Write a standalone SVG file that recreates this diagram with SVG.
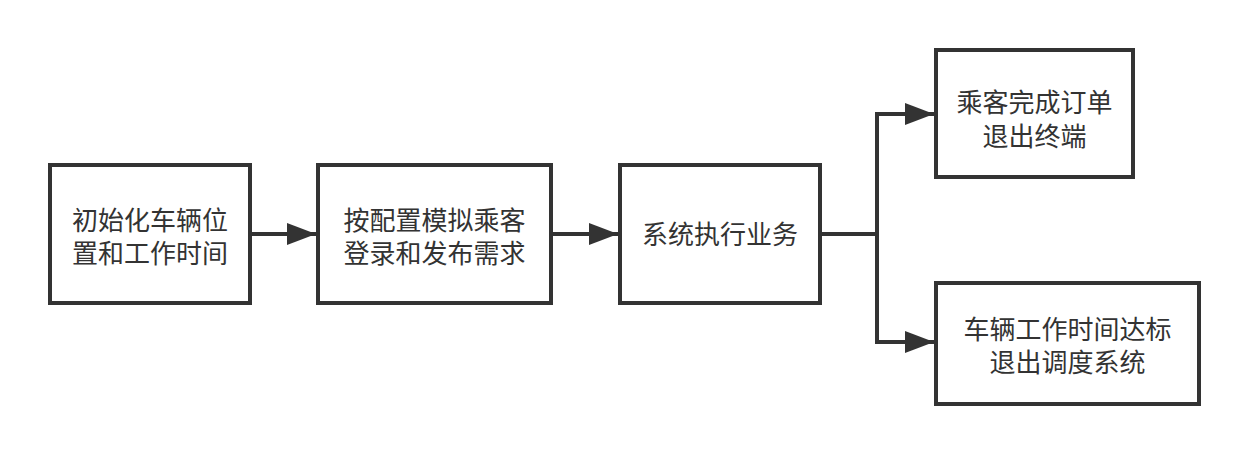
<svg xmlns="http://www.w3.org/2000/svg" width="1248" height="454" viewBox="0 0 1248 454">
  <style>
    .box { fill: #ffffff; stroke: #333333; stroke-width: 4; }
    .edge { fill: none; stroke: #333333; stroke-width: 4; }
    .label { font-family: "Noto Sans CJK SC", "Liberation Sans", sans-serif; font-size: 26px; fill: #333333; text-anchor: middle; }
  </style>
  <defs>
    <marker id="arrow" markerUnits="userSpaceOnUse" markerWidth="30" markerHeight="22" refX="29" refY="11" orient="auto">
      <path d="M0,0 L29,11 L0,22 Z" fill="#333333"/>
    </marker>
  </defs>
  <rect width="1248" height="454" fill="#ffffff"/>

  <g id="connectors">
    <line class="edge" x1="251" y1="234" x2="316" y2="234" marker-end="url(#arrow)"/>
    <line class="edge" x1="553" y1="234" x2="618" y2="234" marker-end="url(#arrow)"/>
    <polyline class="edge" points="821,234 877,234"/>
    <polyline class="edge" points="877,234 877,114 934,114" marker-end="url(#arrow)"/>
    <polyline class="edge" points="877,234 877,342 934,342" marker-end="url(#arrow)"/>
  </g>

  <g id="init">
    <rect class="box" x="50" y="165" width="200" height="138"/>
    <text class="label" x="150" y="230">初始化车辆位</text>
    <text class="label" x="150" y="263">置和工作时间</text>
  </g>

  <g id="simulate">
    <rect class="box" x="318" y="165" width="233" height="138"/>
    <text class="label" x="434.5" y="230">按配置模拟乘客</text>
    <text class="label" x="434.5" y="263">登录和发布需求</text>
  </g>

  <g id="execute">
    <rect class="box" x="620" y="165" width="200" height="138"/>
    <text class="label" x="720" y="244">系统执行业务</text>
  </g>

  <g id="passenger-exit">
    <rect class="box" x="936" y="50" width="197" height="127"/>
    <text class="label" x="1034.5" y="112">乘客完成订单</text>
    <text class="label" x="1034.5" y="146">退出终端</text>
  </g>

  <g id="vehicle-exit">
    <rect class="box" x="936" y="283" width="263" height="121"/>
    <text class="label" x="1067.5" y="339">车辆工作时间达标</text>
    <text class="label" x="1067.5" y="372">退出调度系统</text>
  </g>
</svg>
